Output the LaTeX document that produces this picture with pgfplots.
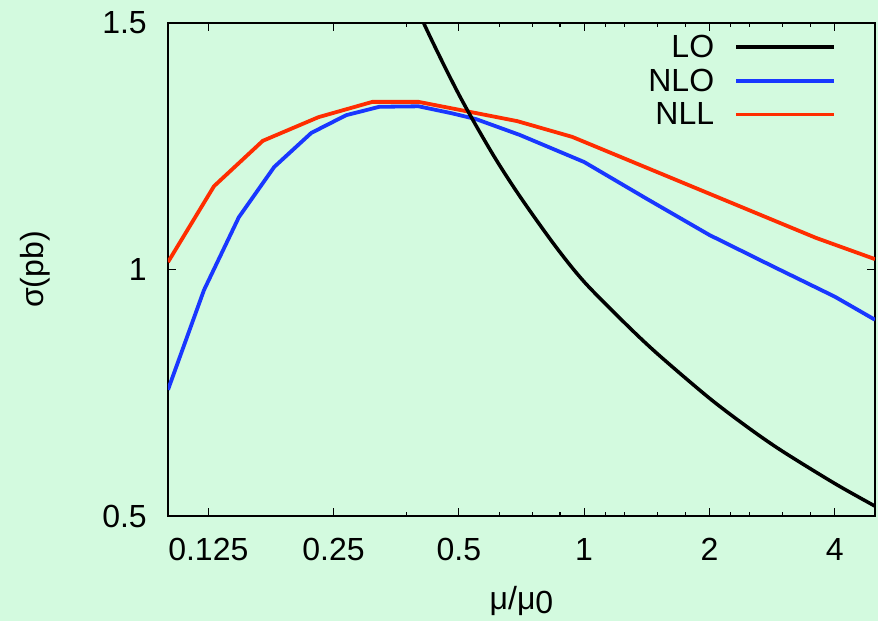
\documentclass[border=0pt]{standalone}
\usepackage{pgfplots}
\pgfplotsset{compat=1.18}
\usepackage{fontspec}
\setmainfont{Liberation Sans}
\definecolor{bg}{RGB}{211,250,223}
\definecolor{nlo}{RGB}{25,55,255}
\definecolor{nll}{RGB}{255,45,0}
\begin{document}
\begin{tikzpicture}[x=1bp,y=1bp]
\path[use as bounding box] (0,0) rectangle (878,621);
\fill[bg] (0,0) rectangle (878,621);
\begin{axis}[
  at={(168bp,105bp)}, anchor=south west,
  scale only axis, width=707bp, height=493bp,
  xmode=log, xmin=0.1, xmax=5, ymin=0.5, ymax=1.5,
  xtick={0.125,0.25,0.5,1,2,4}, xticklabels={0.125,0.25,0.5,1,2,4},
  minor xtick={0.375,0.625,0.75,0.875,1.125,1.25,1.5,1.75,2.25,2.5,3,3.5},
  ytick={0.5,1,1.5}, yticklabels={0.5,1,1.5},
  tick align=inside, major tick length=8bp, minor tick length=4bp,
  every tick/.style={black, line width=1.1bp},
  axis line style={line width=1.3bp},
  tick label style={font=\fontsize{32bp}{38bp}\selectfont},
  xticklabel style={inner sep=0pt, yshift=-22bp},
  yticklabel style={inner sep=0pt, xshift=-21bp},
  label style={font=\fontsize{32bp}{38bp}\selectfont},
  xlabel={μ/μ\raisebox{-4bp}{0}},
  xlabel style={at={(axis description cs:0.5,-0.189)}, anchor=base, inner sep=0pt},
  ylabel={σ(pb)},
  ylabel style={at={(axis description cs:-0.188,0.5)}, anchor=center, inner sep=0pt},
  legend style={draw=none, fill=none, at={(rel axis cs:0.9448,0.9757)}, anchor=north east,
    inner sep=0pt, outer sep=0pt, row sep=10bp, column sep=20bp,
    nodes={inner sep=0pt}, font=\fontsize{32bp}{38bp}\selectfont},
  legend plot pos=right,
  legend cell align=right,
  legend image code/.code={\draw[#1] (0bp,0bp) -- (98bp,0bp);},
]
\addplot[nlo, line width=3.8bp, forget plot] coordinates {
(0.1,0.756) (0.122,0.958) (0.148,1.106) (0.18,1.208) (0.221,1.277) (0.268,1.313)
(0.322,1.330) (0.40,1.331) (0.48,1.317) (0.55,1.305) (0.70,1.273) (1.0,1.218)
(1.41,1.144) (2.0,1.070) (2.83,1.007) (4.0,0.945) (5.0,0.898)};
\addplot[nll, line width=3.8bp, forget plot] coordinates {
(0.1,1.015) (0.129,1.169) (0.169,1.261) (0.23,1.309) (0.31,1.340) (0.40,1.340)
(0.69,1.301) (0.936,1.269) (3.61,1.064) (5.0,1.021)};
\addplot[black, line width=3.5bp, smooth, forget plot] coordinates {
(0.35,1.637) (0.413,1.497) (0.5,1.355) (0.6,1.237) (0.7,1.149) (0.85,1.049)
(1.0,0.975) (1.25,0.892) (1.5,0.829) (2.0,0.739) (2.5,0.677) (3.0,0.631)
(4.0,0.566) (5.0,0.520)};
\addlegendimage{black, line width=3.5bp}
\addlegendentry{LO}
\addlegendimage{nlo, line width=3.8bp}
\addlegendentry{NLO}
\addlegendimage{nll, line width=3.8bp}
\addlegendentry{NLL}
\end{axis}
\end{tikzpicture}
\end{document}
